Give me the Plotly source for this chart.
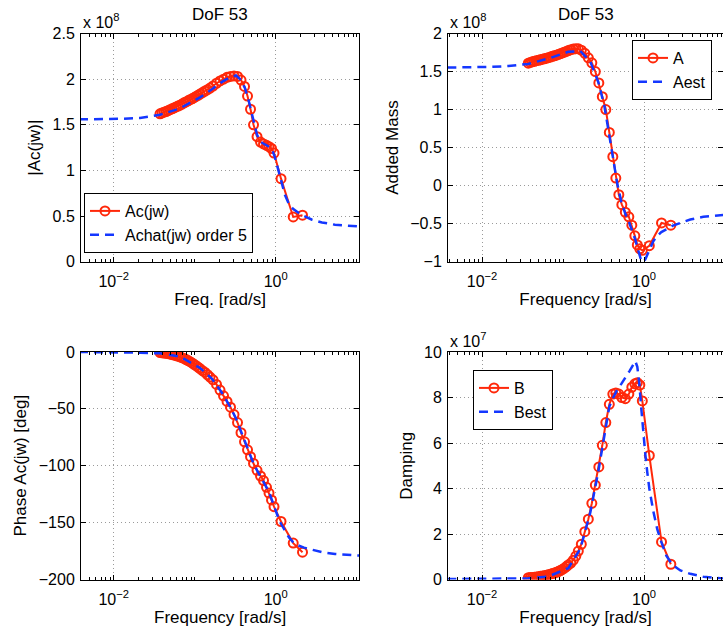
import plotly.graph_objects as go

# ---------------- data ----------------
# measured frequencies [rad/s]
w_meas = [0.03729, 0.03947, 0.04178, 0.04423, 0.04680, 0.04955, 0.05246, 0.05552, 0.05877, 0.06221,
          0.06586, 0.06971, 0.07379, 0.07811, 0.08268, 0.08751, 0.09264, 0.09806, 0.10380, 0.10986,
          0.11629, 0.12480, 0.13403, 0.14391, 0.15449, 0.16825,
          0.1858, 0.2053, 0.2268, 0.2505, 0.2767, 0.3056, 0.3376, 0.3729, 0.4119, 0.4486,
          0.4886, 0.5321, 0.5877, 0.6492, 0.7068, 0.7700, 0.8266, 0.8873, 0.9528,
          1.1625, 1.6444, 2.1424]
# |Ac(jw)|  (x 1e8)
mag_meas = [1.62, 1.63, 1.638, 1.645, 1.655, 1.665, 1.675, 1.685, 1.695, 1.705,
            1.715, 1.727, 1.74, 1.75, 1.762, 1.775, 1.785, 1.797, 1.81, 1.823,
            1.837, 1.853, 1.87, 1.885, 1.902, 1.925,
            1.955, 1.98, 2.0, 2.02, 2.03, 2.035, 2.03, 1.99, 1.92, 1.815,
            1.67, 1.50, 1.37, 1.31, 1.29, 1.275, 1.26, 1.24, 1.19,
            0.91, 0.49, 0.51]
# phase Ac(jw) [deg]
phase_meas = [-0.5, -0.7, -0.9, -1.1, -1.4, -1.8, -2.2, -2.7, -3.2, -3.7,
              -4.3, -5.0, -5.7, -6.6, -7.5, -8.5, -9.6, -10.8, -12.0, -13.3,
              -14.7, -16.4, -18.0, -20.0, -22.0, -24.5,
              -28.5, -33.5, -38.5, -43.5, -48.5, -55, -62, -71, -79, -86,
              -92, -98, -104, -109, -113, -119, -124, -130, -136,
              -149, -168, -176]
# added mass A (x 1e8)
A_meas = [1.61, 1.62, 1.628, 1.635, 1.642, 1.648, 1.655, 1.662, 1.668, 1.675,
          1.682, 1.69, 1.70, 1.707, 1.715, 1.725, 1.735, 1.745, 1.755, 1.765,
          1.775, 1.787, 1.795, 1.80, 1.798, 1.78,
          1.74, 1.68, 1.615, 1.50, 1.35, 1.17, 1.0, 0.70, 0.38, 0.10,
          -0.12, -0.25, -0.35, -0.41, -0.52, -0.66, -0.78, -0.83, -0.85,
          -0.79, -0.49, -0.52]
# damping B (x 1e7)
B_meas = [0.08, 0.085, 0.09, 0.10, 0.11, 0.125, 0.14, 0.155, 0.17, 0.19,
          0.21, 0.235, 0.26, 0.285, 0.315, 0.35, 0.395, 0.445, 0.50, 0.57,
          0.64, 0.72, 0.85, 1.03, 1.25, 1.55,
          2.1, 2.65, 3.35, 4.15, 4.95, 5.9, 6.9, 7.7, 8.15, 8.2,
          8.15, 8.0, 7.95, 8.15, 8.45, 8.6, 8.65, 8.55, 7.85,
          5.45, 1.65, 0.67]

# fitted (order 5) curves
w_fit = [0.00373, 0.00678, 0.0120, 0.0211, 0.0373, 0.0658, 0.1162, 0.1635, 0.2173, 0.2728,
         0.3236, 0.3729, 0.4178, 0.4682, 0.5246, 0.5877, 0.6585, 0.7378, 0.7807, 0.8266,
         0.8750, 0.9261, 0.9803, 1.0376, 1.0982, 1.1625, 1.3024, 1.4593, 1.6350, 1.8849,
         2.2356, 2.8063, 3.7291, 5.3970, 10.83]
mag_fit = [1.56, 1.562, 1.565, 1.575, 1.61, 1.68, 1.80, 1.89, 1.97, 2.02,
           2.04, 1.99, 1.90, 1.75, 1.57, 1.39, 1.31, 1.285, 1.275, 1.26,
           1.24, 1.20, 1.14, 1.06, 0.97, 0.88, 0.73, 0.63, 0.58, 0.54,
           0.50, 0.46, 0.43, 0.405, 0.385]
phase_fit = [0, 0, -0.3, -0.6, -1.2, -4.0, -14, -23.5, -36, -48,
             -58.5, -70, -79, -88, -97, -104, -110, -116, -119, -123,
             -128, -133, -138.5, -143, -147.5, -151, -157, -163, -167, -170,
             -172, -174, -176, -177.5, -179]
A_fit = [1.553, 1.555, 1.56, 1.572, 1.60, 1.67, 1.76, 1.77, 1.63, 1.36,
         1.05, 0.66, 0.32, 0.02, -0.21, -0.37, -0.49, -0.62, -0.71, -0.81,
         -0.91, -0.99, -1.0, -0.97, -0.91, -0.85, -0.73, -0.66, -0.61, -0.575,
         -0.53, -0.49, -0.445, -0.41, -0.38]
B_fit = [0.02, 0.02, 0.02, 0.03, 0.05, 0.13, 0.5, 1.35, 2.95, 4.75,
         6.35, 7.6, 8.0, 8.35, 8.6, 8.85, 9.15, 9.45, 9.6, 9.35,
         8.6, 7.5, 6.4, 5.5, 4.7, 4.0, 3.0, 2.2, 1.65, 1.05,
         0.65, 0.4, 0.25, 0.12, 0.03]

# ---------------- styling ----------------
W, H = 723, 635
RED = "rgb(255,40,10)"
BLUE = "rgb(20,55,255)"
FONT = "Liberation Sans, Arial, Helvetica, sans-serif"
FS = 16      # tick labels / legend
FT = 17      # axis titles and panel titles
GRID = "#9a9a9a"

def px_x(x):
    return x / W

def px_y(y):
    return 1 - y / H

fig = go.Figure()

panels = [
    ("x", "y", mag_meas, mag_fit, "Ac(jw)", "Achat(jw) order 5", "legend"),
    ("x2", "y2", A_meas, A_fit, "A", "Aest", "legend2"),
    ("x3", "y3", phase_meas, phase_fit, None, None, None),
    ("x4", "y4", B_meas, B_fit, "B", "Best", "legend3"),
]

for xa, ya, ym, yf, nm, nf, lg in panels:
    show = nm is not None
    kw = dict(legend=lg) if show else {}
    fig.add_trace(go.Scatter(
        x=w_meas, y=ym, xaxis=xa, yaxis=ya, mode="lines+markers",
        name=nm or "", showlegend=show,
        line=dict(color=RED, width=2),
        marker=dict(symbol="circle-open", size=9, color=RED, line=dict(width=2, color=RED)),
        **kw))
    fig.add_trace(go.Scatter(
        x=w_fit, y=yf, xaxis=xa, yaxis=ya, mode="lines",
        name=nf or "", showlegend=show,
        line=dict(color=BLUE, width=2.5, dash="9px,6px"),
        **kw))

left_dom = [px_x(81), px_x(359.3)]
right_dom = [px_x(448), 1.0]
top_dom = [px_y(261.7), px_y(33.5)]
bot_dom = [px_y(579.5), px_y(352)]

minor_vals = []
for dec in [0.001, 0.01, 0.1, 1, 10]:
    for k in range(2, 10):
        minor_vals.append(k * dec)
minor_vals += [0.1, 10]

def xax(domain, anchor, rng, title):
    return dict(
        type="log", domain=domain, anchor=anchor, range=rng,
        tickmode="array", tickvals=[0.01, 1],
        ticktext=["10<sup>−2</sup>", "10<sup>0</sup>"],
        showline=True, linecolor="black", linewidth=1, mirror="allticks",
        ticks="inside", ticklen=5, tickcolor="black", ticklabelstandoff=5,
        minor=dict(tickmode="array", tickvals=minor_vals, ticks="inside",
                   ticklen=3, tickcolor="black", showgrid=False),
        showgrid=True, gridcolor=GRID, griddash="1px,3px", gridwidth=1,
        zeroline=False, automargin=False,
        tickfont=dict(family=FONT, size=FS, color="black"),
        title=dict(text=title, font=dict(family=FONT, size=FT, color="black"), standoff=1),
    )

def yax(domain, anchor, rng, dtick, title):
    return dict(
        domain=domain, anchor=anchor, range=rng, dtick=dtick, tick0=0,
        showline=True, linecolor="black", linewidth=1, mirror="allticks",
        ticks="inside", ticklen=5, tickcolor="black", ticklabelstandoff=2,
        showgrid=True, gridcolor=GRID, griddash="1px,3px", gridwidth=1,
        zeroline=False, automargin=False,
        tickfont=dict(family=FONT, size=FS, color="black"),
        title=dict(text=title, font=dict(family=FONT, size=FT, color="black"), standoff=7),
    )

LR = [-2.404, 1.032]
RR = [-2.42, 0.975]

legend_style = dict(xanchor="left", yanchor="top", bgcolor="white",
                    bordercolor="black", borderwidth=1,
                    font=dict(family=FONT, size=FS, color="black"))

fig.update_layout(
    width=W, height=H,
    margin=dict(l=0, r=0, t=0, b=0),
    paper_bgcolor="white", plot_bgcolor="white",
    font=dict(family=FONT, size=FS, color="black"),
    xaxis=xax(left_dom, "y", LR, "Freq. [rad/s]"),
    yaxis=yax(top_dom, "x", [0, 2.5], 0.5, "|Ac(jw)|"),
    xaxis2=xax(right_dom, "y2", RR, "Frequency [rad/s]"),
    yaxis2=yax(top_dom, "x2", [-1, 2], 0.5, "Added Mass"),
    xaxis3=xax(left_dom, "y3", LR, "Frequency [rad/s]"),
    yaxis3=yax(bot_dom, "x3", [-200, 0], 50, "Phase Ac(jw) [deg]"),
    xaxis4=xax(right_dom, "y4", RR, "Frequency [rad/s]"),
    yaxis4=yax(bot_dom, "x4", [0, 10], 2, "Damping"),
    legend=dict(x=px_x(84), y=px_y(193), **legend_style),
    legend2=dict(x=px_x(632), y=px_y(40), **legend_style),
    legend3=dict(x=px_x(473), y=px_y(370), **legend_style),
)

ann = []
for cx in [220, 586]:
    ann.append(dict(text="DoF 53", x=px_x(cx), y=px_y(15), xref="paper", yref="paper",
                    xanchor="center", yanchor="middle", showarrow=False,
                    font=dict(family=FONT, size=FT, color="black")))
for lx, ty, exp in [(81, 33, "8"), (448, 33, "8"), (448, 352, "7")]:
    ann.append(dict(text="x 10<sup>%s</sup>" % exp, x=px_x(lx), y=px_y(ty),
                    xref="paper", yref="paper", xanchor="left", yanchor="bottom",
                    showarrow=False, font=dict(family=FONT, size=FS, color="black")))
fig.update_layout(annotations=ann)

fig.write_html("out.html")
